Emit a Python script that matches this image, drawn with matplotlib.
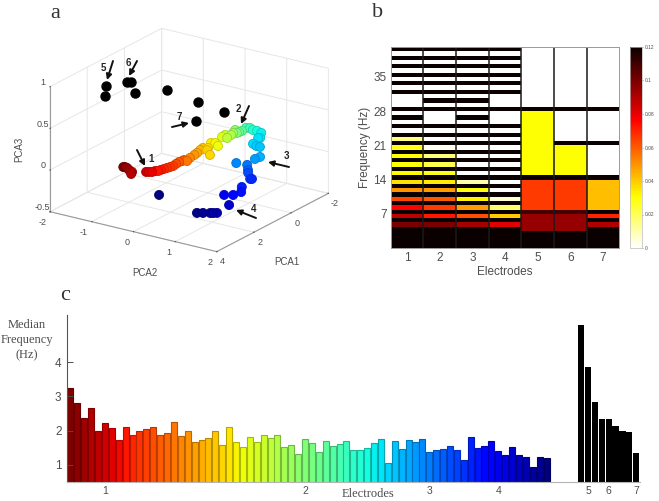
"""
Three panel figure: PCA trajectory, electrode spectra and median frequency
"""

### Import modules
import numpy as np
import matplotlib
matplotlib.use('Agg')
import matplotlib.pyplot as plt

### Panel a data, coloured points
pca1 = [2.52,2.55,2.55,2.66,2.75,2.91,2.51,2.46,2.41,2.29,2.24,2.12,2.00,1.88,
        1.76,1.64,1.44,1.25,1.13,1.03,1.05,0.78,0.50,0.31,0.05,-0.14,1.11,1.41,
        0.95,0.55,0.48,0.64,-0.07,-0.26,-0.08,-0.36,-0.53,-0.78,-0.60,-0.70,
        -0.83,-1.11,-1.17,-1.08,-1.08,-1.01,-0.64,-0.60,-0.10,-0.01,0.00,-1.06,
        -0.83,-0.23,-0.28,0.06,0.27,0.66,0.63,0.19,0.56,0.90,1.05,1.68,2.44,
        2.51,2.56,2.68,2.78,2.15]
pca2 = [-0.86,-0.89,-0.80,-0.70,-0.59,-0.54,-0.36,-0.31,-0.26,-0.24,-0.19,-0.18,
        -0.16,-0.14,-0.12,-0.10,-0.12,-0.13,-0.11,-0.11,-0.03,-0.08,-0.10,-0.12,
        -0.16,-0.18,0.48,0.68,0.43,0.32,0.39,0.53,0.31,0.30,0.43,0.40,0.37,0.31,
        0.43,0.44,0.45,0.42,0.49,0.60,0.70,0.83,0.97,0.94,1.04,1.16,1.25,0.78,
        0.76,0.58,0.82,0.99,1.09,1.31,1.34,0.90,1.05,1.01,0.86,1.26,1.31,1.25,
        1.20,1.08,0.98,-0.21]
pca3 = [0.0]*26 + [0.2]*25 + [-0.1]*8 + [-0.3]*11

### Where along the colour scale the trajectory points sit
colidx = [0,5,6,19,25,31,32,37,42,45,50,53,57,61,64,69]
colpos = [0,.05,.07,.2,.3,.36,.38,.48,.58,.64,.68,.74,.82,.87,.96,1]

### Panel a data, black points
pca1k = [2.40,3.16,1.78,1.72,2.40,1.67,1.99,3.34,2.27]
pca2k = [-1.38,-1.06,-1.15,-1.08,-0.68,-0.24,0.65,1.21,1.41]
pca3k = [0.9,0.9,0.9,0.9,0.9,0.9,0.9,0.9,0.9]

### Panel b data, power per frequency bin from the lowest bin up
power1 = [.12,.12,.12,.12,.12,.1,.12,.088,.12,.076,.12,.064,.12,.05,.12,.036,
          .12,.031,.12,.03,.12,.03,.12,.028,.12,.015,.12,0,.12,0,.12,0,.12,0,0,0,
          .12,0,.12,0,.12,0,.12,0,.12,0,.12]
power2 = [.12,.12,.12,.12,.12,.1,.12,.072,.12,.066,.12,.06,.12,.048,.12,.034,
          .12,.027,.12,.022,.12,.016,.12,.002,.12,0,.12,0,.12,0,0,0,.12,0,.12,0,
          .12,0,.12,0,.12,0,.12,0,.12,0,.12]
power3 = [.12,.12,.12,.12,.12,.092,.12,.062,.12,.048,.12,.032,.12,.029,.12,.01,
          .12,0,.12,0,.12,0,.12,0,.12,0,.12,0,.12,0,.12,0,.12,0,.12,0,
          .12,0,.12,0,.12,0,.12,0,.12,0,.12]
power4 = [.12,.12,.12,.12,.12,.082,.12,.04,.12,.018,.12,.006,.12,0,.12,0,
          .12,0,.12,0,.12,0,.12,0,.12,0,.12,0,.12,0,0,0,.12,0,0,0,
          .12,0,.12,0,.12,0,.12,0,.12,0,.12]
power5 = [.12,.12,.12,.12,.095,.095,.095,.095,.11,.066,.066,.066,.066,.066,.066,
          .066,.12,.03,.03,.03,.03,.03,.03,.03,.03,.03,.03,.03,.03,.03,.03,.03,
          .12,0,0,0,0,0,0,0,0,0,0,0,0,0,0]
power6 = [.12,.12,.12,.12,.095,.095,.095,.095,.11,.066,.066,.066,.066,.066,.066,
          .066,.12,.03,.03,.03,.03,.03,.03,.03,.12,0,0,0,0,0,0,0,
          .12,0,0,0,0,0,0,0,0,0,0,0,0,0,0]
power7 = [.12,.12,.12,.12,.12,.09,.12,.07,.12,.042,.042,.042,.042,.042,.042,
          .042,.12,0,0,0,0,0,0,0,.12,0,0,0,0,0,0,0,
          .12,0,0,0,0,0,0,0,0,0,0,0,0,0,0]
electrodes = [1,2,3,4,5,6,7]
freqticks = [7,14,21,28,35]
cbarticks = [0,0.02,0.04,0.06,0.08,0.1,0.12]

### Panel c data
median = [3.25,2.82,2.37,2.67,1.98,2.23,2.08,1.73,2.11,1.88,1.98,2.05,2.11,1.86,
          1.93,2.24,1.83,1.98,1.67,1.73,1.78,1.98,1.58,2.10,1.67,1.53,1.80,1.65,
          1.88,1.78,1.88,1.51,1.58,1.31,1.75,1.63,1.37,1.68,1.56,1.61,1.68,1.44,
          1.43,1.48,1.63,1.75,1.04,1.68,1.47,1.73,1.66,1.75,1.37,1.42,1.45,1.56,
          1.43,1.14,1.81,1.50,1.56,1.70,1.41,1.27,1.51,1.27,1.22,0.93,1.21,1.19]
mediank = [5.11,3.86,2.84,2.33,2.33,2.13,2.00,1.95,1.34]
elecpos = [5,34,52,62,75,78,82]

### Helper for axes given in picture pixels
W,H = 659.,501.
def pos(left,top,right,bottom):
    return [left/W,1-bottom/H,(right-left)/W,(bottom-top)/H]

plt.rc('font',family=['Liberation Sans','DejaVu Sans'])
plt.rc('grid',color='#e6e6e6',linewidth=0.7)
plt.rc('axes',unicode_minus=False)
grey = '#4d4d4d'
fig = plt.figure(figsize=(W/100,H/100),dpi=100)

###########################################################################
### Panel a
ax = fig.add_axes(pos(33.1,-7.9,337.1,296.1),projection='3d',proj_type='ortho')
ax.set_facecolor('none')
ax.set_box_aspect((597,604,401))
ax.view_init(elev=20.7,azim=34.1)

ptcolors = plt.cm.jet_r(np.interp(np.arange(len(pca1)),colidx,colpos))
ptedges = ptcolors.copy()
ptedges[:,:3] = ptedges[:,:3]*0.82
ax.scatter(pca1,pca2,pca3,s=42,c=ptcolors,edgecolors=ptedges,linewidths=0.6,
           depthshade=False)
ax.scatter(pca1k,pca2k,pca3k,s=42,c='k',depthshade=False)

ax.set_xlim(-2,4)
ax.set_ylim(-2,2)
ax.set_zlim(-0.5,1)
ax.set_xticks([-2,0,2,4])
ax.set_yticks([-2,-1,0,1,2])
ax.set_zticks([-0.5,0,0.5,1])
ax.set_zticklabels(['-0.5','0','0.5','1'])
for axis in (ax.xaxis,ax.yaxis,ax.zaxis):
    axis.set_pane_color((1,1,1,0))
    axis.pane.set_edgecolor('#e0e0e0')
    axis.line.set_color('#9a9a9a')
    axis._axinfo['tick']['outward_factor'] = 0.02
    axis._axinfo['tick']['inward_factor'] = 0.0
    axis._axinfo['tick']['color'] = '#9a9a9a'
ax.tick_params(labelsize=6.5,colors=grey)
ax.tick_params(axis='x',pad=-4)
ax.tick_params(axis='y',pad=-4)
ax.tick_params(axis='z',pad=-5)
plt.setp(ax.get_yticklabels(),ha='right')
plt.setp(ax.get_zticklabels(),va='bottom')

###########################################################################
### Panel b
ax = fig.add_axes(pos(390.7,47,619.3,248))
power = np.array([power1,power2,power3,power4,power5,power6,power7]).T
xedge = np.arange(0.5,8)
yedge = np.arange(power.shape[0]+1)*0.875
mesh = ax.pcolormesh(xedge,yedge,power,cmap='hot_r',vmin=0,vmax=0.12)
ax.vlines(xedge[1:-1],yedge[0],yedge[-1],color='#1a1a1a',linewidth=1.1)
ax.set_xticks(electrodes)
ax.set_yticks(freqticks)
ax.tick_params(labelsize=8.5,colors=grey,length=0,pad=3)
ax.set_xlabel('Electrodes',fontsize=8.5,color=grey,labelpad=1)
ax.set_ylabel('Frequency (Hz)',fontsize=8.5,color=grey,labelpad=2)
for spine in ax.spines.values():
    spine.set_color('#9a9a9a')
    spine.set_linewidth(0.7)

cax = fig.add_axes(pos(630,47,641.7,248))
cbar = fig.colorbar(mesh,cax=cax,ticks=cbarticks)
cbar.ax.set_yticklabels(['0','0.02','0.04','0.06','0.08','0.1','0.12'])
cbar.ax.tick_params(labelsize=3.5,colors=grey,length=1,width=0.4,pad=1)
cbar.outline.set_edgecolor('#bbbbbb')
cbar.outline.set_linewidth(0.5)

###########################################################################
### Panel c
ax = fig.add_axes(pos(67,315,640,481.7))
xbar = np.arange(len(median))
xblack = np.arange(len(mediank))+74
colors = plt.cm.jet_r(np.linspace(0,1,len(median)))
edges = colors.copy()
edges[:,:3] = edges[:,:3]*0.72
ax.bar(xbar,median,width=0.88,bottom=0,color=colors,edgecolor=edges,linewidth=0.8)
ax.bar(xblack,mediank,width=0.9,bottom=0,color='k')
ax.set_xlim(-0.5,82.54)
ax.set_ylim(0.5,5.39)
ax.set_xticks(elecpos)
ax.set_xticklabels(electrodes)
ax.set_yticks([1,2,3,4])
ax.tick_params(axis='x',length=0,labelsize=7.5,colors=grey,pad=3)
ax.tick_params(axis='y',direction='in',length=4,width=0.7,labelsize=8.5,colors=grey,pad=4)
ax.spines['top'].set_visible(False)
ax.spines['right'].set_visible(False)
ax.spines['left'].set_color('#555555')
ax.spines['bottom'].set_color('#b5b5b5')

###########################################################################
### Overlay in picture pixels for text and arrows
ov = fig.add_axes([0,0,1,1])
ov.set_xlim(0,W)
ov.set_ylim(H,0)
ov.axis('off')
ov.patch.set_alpha(0)

serif = 'Liberation Serif'
ov.text(55,13,'a',fontsize=16,family=serif,ha='center',va='center',color='#333333')
ov.text(378,12,'b',fontsize=16,family=serif,ha='center',va='center',color='#333333')
ov.text(65,296,'c',fontsize=16,family=serif,ha='center',va='center',color='#333333')
ov.text(27,325.5,'Median',fontsize=9,family=serif,ha='center',va='center',color=grey)
ov.text(27,340,'Frequency',fontsize=9,family=serif,ha='center',va='center',color=grey)
ov.text(27,355,'(Hz)',fontsize=9,family=serif,ha='center',va='center',color=grey)
ov.text(368,494,'Electrodes',fontsize=9,family=serif,ha='center',va='center',color=grey)

ov.text(145,273,'PCA2',fontsize=7,ha='center',va='center',color=grey)
ov.text(287,262,'PCA1',fontsize=7,ha='center',va='center',color=grey)
ov.text(19,149,'PCA3',fontsize=7,ha='center',va='center',color=grey,rotation=90)

### Arrows and numbers, tail then head
arrows = [((137,150),(145,166)),((249,106),(241,124)),((289,167),(268,162)),
          ((256,218),(236,210)),((113,61),(107,80)),((137,61),(129,76)),
          ((172,127),(189,123))]
numbers = [('1',151,159),('2',238,109),('3',286,156),('4',254,209),('5',103,68),
           ('6',128,63),('7',179,117)]
for tail,head in arrows:
    ov.annotate('',xy=head,xytext=tail,
                arrowprops=dict(arrowstyle='-|>',color='#111111',lw=1.4,
                                mutation_scale=8,shrinkA=0,shrinkB=0))
for label,xp,yp in numbers:
    ov.text(xp,yp,label,fontsize=7,fontweight='bold',ha='center',va='center',
            color='#222222')

### Save figure
plt.savefig('out.png',dpi=100)
